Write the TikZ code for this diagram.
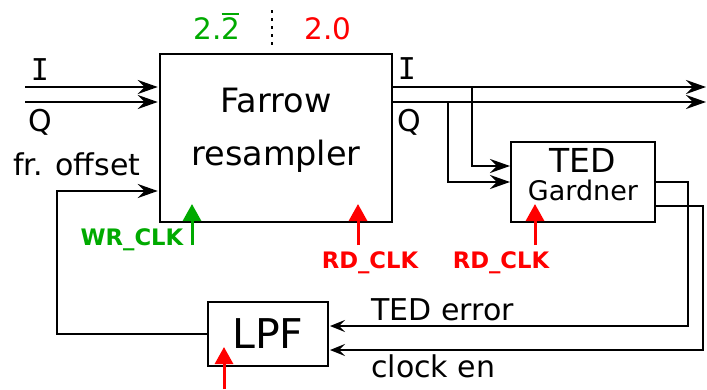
\documentclass[tikz,border=0pt]{standalone}
\usepackage{fontspec}
\setmainfont{DejaVu Sans}
\newfontfamily\serifI{DejaVu Sans Mono}
\usetikzlibrary{arrows.meta}
\definecolor{gr}{RGB}{0,170,0}
\definecolor{rd}{RGB}{255,0,0}
\begin{document}
\begin{tikzpicture}[x=1pt,y=-1pt,
  blk/.style={draw, line width=2.5pt, inner sep=0pt},
  arr/.style={line width=2.5pt, -{Stealth[length=20pt,width=14pt,inset=7pt]}},
  arrs/.style={line width=2.5pt, -{Stealth[length=15pt,width=12pt,inset=6pt]}},
  clkr/.style={rd, line width=3pt, -{Triangle[length=17pt,width=18pt]}},
  clkg/.style={gr, line width=3pt, -{Triangle[length=17pt,width=18pt]}},
  lbl/.style={anchor=base, inner sep=0pt, font=\fontsize{30}{30}\selectfont},
  big/.style={anchor=base, inner sep=0pt, font=\fontsize{33.5}{33.5}\selectfont},
  clk/.style={anchor=base, inner sep=0pt, font=\fontsize{22.7}{22.7}\selectfont\bfseries},
  num/.style={anchor=base, inner sep=0pt, font=\fontsize{29.5}{29.5}\selectfont}]
\useasboundingbox[fill=white] (0,0) rectangle (707,389);

% blocks
\node[blk, minimum width=232pt, minimum height=168pt] (far) at (276,138) {};
\node[blk, minimum width=144pt, minimum height=80pt] (ted) at (583,182) {};
\node[blk, minimum width=120pt, minimum height=64pt] (lpf) at (268,334) {};

% block texts
\node[big] (farA) at (276,112) {Farrow};
\node[big] (farB) at (276,165) {resampler};
\node[big, font=\fontsize{33}{33}\selectfont] (tedA) at (583,172) {TED};
\node[lbl, font=\fontsize{27}{27}\selectfont] (tedB) at (583,200) {Gardner};
\node[lbl, font=\fontsize{41}{41}\selectfont] (lpfA) at (268,348) {LPF};

% coordinates
\coordinate (iin) at (25,87);
\coordinate (qin) at (25,102);
\coordinate (iout) at (706,87);
\coordinate (qout) at (706,102);
\coordinate (ib) at (472,87);
\coordinate (qb) at (448,102);
\coordinate (tedi) at (510,166);
\coordinate (tedq) at (510,182);
\coordinate (te1) at (688,182);
\coordinate (te2) at (703,206);
\coordinate (lpfa) at (330,326);
\coordinate (lpfb) at (330,350);
\coordinate (fo) at (57,191);
\coordinate (wrb) at (192,245);
\coordinate (wrt) at (192,204);
\coordinate (rd1b) at (358,245);
\coordinate (rd1t) at (358,204);
\coordinate (rd2b) at (535,245);
\coordinate (rd2t) at (535,204);
\coordinate (rd3b) at (224,389);
\coordinate (rd3t) at (224,347);
\coordinate (dt) at (272,10);
\coordinate (db) at (272,46);

% inputs
\draw[arr] (iin) -- ([xshift=-1pt]iin -| far.west);
\draw[arr] (qin) -- ([xshift=-1pt]qin -| far.west);
% outputs
\draw[arr] (far.east |- iout) -- (iout);
\draw[arr] (far.east |- qout) -- (qout);
% branches to TED
\draw[arr] (ib) |- (tedi);
\draw[arr] (qb) |- (tedq);
% TED outputs to LPF
\draw[arrs] (ted.east |- te1) -- (te1) |- (lpfa);
\draw[arrs] (ted.east |- te2) -- (te2) |- (lpfb);
% LPF to farrow
\draw[arr] (lpf.west) -| (fo) -- ([xshift=-1pt]fo -| far.west);

% clocks
\draw[clkg] (wrb) -- (wrt);
\draw[clkr] (rd1b) -- (rd1t);
\draw[clkr] (rd2b) -- (rd2t);
\draw[clkr] (rd3b) -- (rd3t);

% dotted separator
\draw[line width=2.6pt, dash pattern=on 2.6pt off 5.5pt] (dt) -- (db);

% labels
\node[lbl, font=\fontsize{30}{30}\selectfont\serifI] (tI) at (40,80) {I};
\node[lbl] (tQ) at (40,131) {Q};
\node[lbl, anchor=base west] (tfo) at (13,175) {fr. offset};
\node[lbl, font=\fontsize{30}{30}\selectfont\serifI] (tIo) at (407,79) {I};
\node[lbl] (tQo) at (409,131) {Q};
\node[lbl, anchor=base west] (terr) at (371,320) {TED error};
\node[lbl, anchor=base west] (tce) at (371,377) {clock en};
\node[clk, text=gr] (twr) at (132,245) {WR\_CLK};
\node[clk, text=rd] (trd1) at (370,268) {RD\_CLK};
\node[clk, text=rd] (trd2) at (501,268) {RD\_CLK};
\node[num, text=gr] (n1) at (217,39) {2.\rlap{\rule[0.82em]{0.6em}{2.3pt}}2};
\node[num, text=rd] (n2) at (328,39) {2.0};
\end{tikzpicture}
\end{document}
